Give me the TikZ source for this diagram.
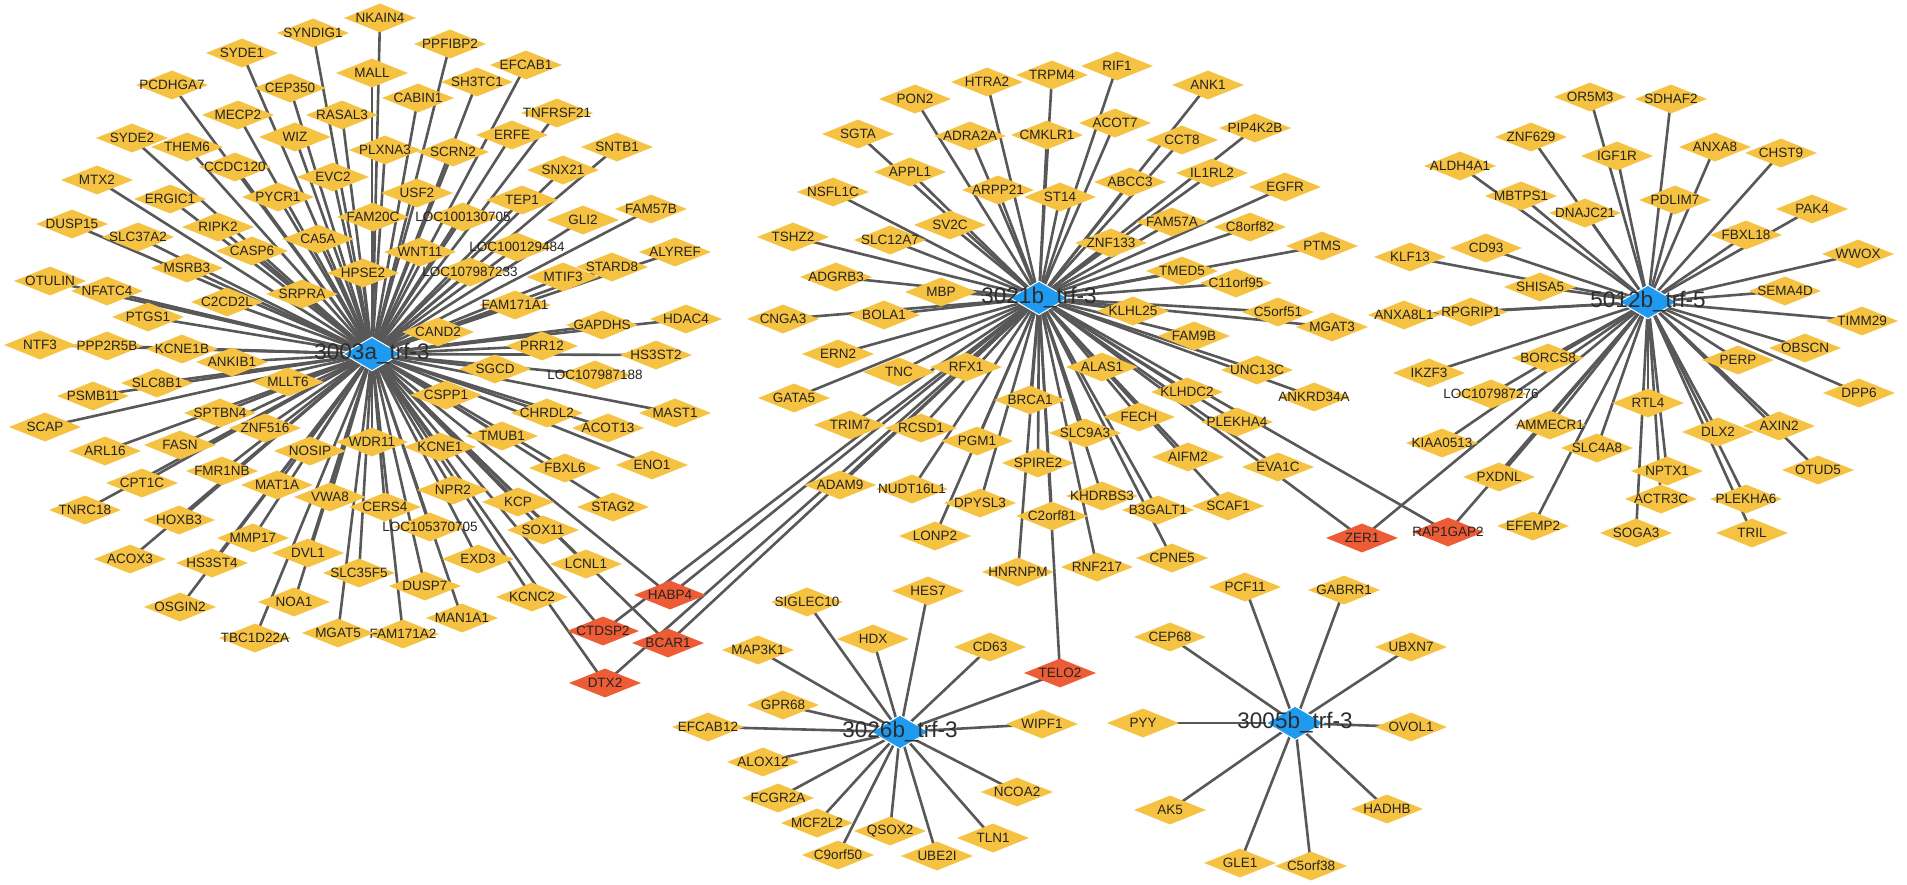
\documentclass[tikz,border=0pt]{standalone}
\usepackage{fontspec}
\setmainfont{Liberation Sans}
\usetikzlibrary{shapes.geometric}
\pgfdeclarelayer{bgfill}
\pgfdeclarelayer{edges}
\pgfsetlayers{bgfill,edges,main}
\definecolor{gold}{RGB}{246,194,66}
\definecolor{redn}{RGB}{238,92,54}
\definecolor{bluen}{RGB}{30,154,240}
\definecolor{edgec}{RGB}{88,88,88}
\definecolor{txt}{RGB}{35,35,35}
\definecolor{hubtxt}{RGB}{45,45,45}
\newcommand\gn[4]{\node[gene] (#1) at (#2,#3) {\makebox[0pt]{#4}};}
\newcommand\rn[4]{\node[gene,fill=redn] (#1) at (#2,#3) {\makebox[0pt]{#4}};}
\begin{document}
\begin{tikzpicture}[x=1pt,y=-1pt,
 gene/.style={diamond,fill=gold,draw=none,minimum width=72pt,minimum height=29pt,inner sep=0pt,font=\fontsize{13.5}{14}\selectfont,text=txt},
 hub/.style={diamond,fill=bluen,draw=white,line width=1pt,minimum width=58pt,minimum height=34pt,inner sep=0pt},
 hublabel/.style={font=\fontsize{22.5}{24}\selectfont,text=hubtxt,inner sep=0pt},
 edge/.style={draw=edgec,line width=2.6pt}]
\begin{pgfonlayer}{bgfill}
\fill[white] (0,0) rectangle (1907,885);
\end{pgfonlayer}
\useasboundingbox (0,0) rectangle (1907,885);
% hubs (positions)
\coordinate (pA) at (372,354);
\coordinate (pB) at (1039,298);
\coordinate (pC) at (1648,302);
\coordinate (pD) at (900,732);
\coordinate (pE) at (1295,723);
% ---- 3003a cluster
\gn{NKAIN4}{380}{18}{NKAIN4}
\gn{SYNDIG1}{313}{33}{SYNDIG1}
\gn{SYDE1}{242}{53}{SYDE1}
\gn{PPFIBP2}{450}{44}{PPFIBP2}
\gn{EFCAB1}{526}{65}{EFCAB1}
\gn{MALL}{372}{73}{MALL}
\gn{SH3TC1}{477}{82}{SH3TC1}
\gn{PCDHGA7}{172}{85}{PCDHGA7}
\gn{CEP350}{290}{88}{CEP350}
\gn{CABIN1}{418}{98}{CABIN1}
\gn{TNFRSF21}{557}{113}{TNFRSF21}
\gn{MECP2}{238}{115}{MECP2}
\gn{RASAL3}{342}{115}{RASAL3}
\gn{ERFE}{512}{135}{ERFE}
\gn{SYDE2}{132}{138}{SYDE2}
\gn{WIZ}{295}{137}{WIZ}
\gn{THEM6}{187}{147}{THEM6}
\gn{SNTB1}{617}{147}{SNTB1}
\gn{PLXNA3}{385}{150}{PLXNA3}
\gn{SCRN2}{453}{152}{SCRN2}
\gn{CCDC120}{235}{167}{CCDC120}
\gn{SNX21}{563}{170}{SNX21}
\gn{EVC2}{333}{177}{EVC2}
\gn{MTX2}{97}{180}{MTX2}
\gn{USF2}{417}{193}{USF2}
\gn{PYCR1}{278}{197}{PYCR1}
\gn{ERGIC1}{170}{199}{ERGIC1}
\gn{TEP1}{522}{200}{TEP1}
\gn{FAM57B}{651}{209}{FAM57B}
\gn{FAM20C}{373}{217}{FAM20C}
\gn{LOCa}{463}{217}{LOC100130705}
\gn{GLI2}{583}{220}{GLI2}
\gn{DUSP15}{72}{224}{DUSP15}
\gn{RIPK2}{218}{227}{RIPK2}
\gn{SLC37A2}{138}{237}{SLC37A2}
\gn{CA5A}{318}{239}{CA5A}
\gn{LOCb}{517}{247}{LOC100129484}
\gn{CASP6}{252}{251}{CASP6}
\gn{WNT11}{420}{252}{WNT11}
\gn{ALYREF}{675}{252}{ALYREF}
\gn{STARD8}{612}{267}{STARD8}
\gn{MSRB3}{187}{268}{MSRB3}
\gn{LOCc}{470}{272}{LOC107987233}
\gn{HPSE2}{363}{273}{HPSE2}
\gn{MTIF3}{563}{277}{MTIF3}
\gn{OTULIN}{50}{281}{OTULIN}
\gn{NFATC4}{107}{291}{NFATC4}
\gn{SRPRA}{302}{294}{SRPRA}
\gn{C2CD2L}{227}{302}{C2CD2L}
\gn{FAM171A1}{515}{305}{FAM171A1}
\gn{PTGS1}{148}{317}{PTGS1}
\gn{HDAC4}{686}{319}{HDAC4}
\gn{GAPDHS}{602}{325}{GAPDHS}
\gn{CAND2}{438}{332}{CAND2}
\gn{NTF3}{40}{345}{NTF3}
\gn{PPP2R5B}{107}{346}{PPP2R5B}
\gn{PRR12}{542}{346}{PRR12}
\gn{KCNE1B}{182}{349}{KCNE1B}
\gn{HS3ST2}{656}{355}{HS3ST2}
\gn{ANKIB1}{232}{362}{ANKIB1}
\gn{SGCD}{495}{369}{SGCD}
\gn{LOCd}{595}{375}{LOC107987188}
\gn{SLC8B1}{157}{383}{SLC8B1}
\gn{MLLT6}{288}{382}{MLLT6}
\gn{CSPP1}{446}{395}{CSPP1}
\gn{PSMB11}{93}{396}{PSMB11}
\gn{SPTBN4}{220}{413}{SPTBN4}
\gn{CHRDL2}{547}{413}{CHRDL2}
\gn{MAST1}{675}{413}{MAST1}
\gn{SCAP}{45}{427}{SCAP}
\gn{ZNF516}{265}{428}{ZNF516}
\gn{ACOT13}{608}{428}{ACOT13}
\gn{TMUB1}{502}{436}{TMUB1}
\gn{WDR11}{372}{442}{WDR11}
\gn{FASN}{180}{445}{FASN}
\gn{KCNE1}{440}{447}{KCNE1}
\gn{ARL16}{105}{451}{ARL16}
\gn{NOSIP}{310}{451}{NOSIP}
\gn{ENO1}{652}{465}{ENO1}
\gn{FBXL6}{565}{468}{FBXL6}
\gn{FMR1NB}{222}{471}{FMR1NB}
\gn{CPT1C}{142}{483}{CPT1C}
\gn{MAT1A}{277}{485}{MAT1A}
\gn{NPR2}{453}{490}{NPR2}
\gn{VWA8}{330}{497}{VWA8}
\gn{KCP}{518}{502}{KCP}
\gn{CERS4}{385}{507}{CERS4}
\gn{STAG2}{613}{507}{STAG2}
\gn{TNRC18}{85}{510}{TNRC18}
\gn{HOXB3}{179}{520}{HOXB3}
\gn{LOCe}{430}{527}{LOC105370705}
\gn{SOX11}{543}{530}{SOX11}
\gn{MMP17}{253}{538}{MMP17}
\gn{DVL1}{308}{553}{DVL1}
\gn{EXD3}{478}{559}{EXD3}
\gn{ACOX3}{130}{559}{ACOX3}
\gn{HS3ST4}{212}{563}{HS3ST4}
\gn{LCNL1}{586}{564}{LCNL1}
\gn{SLC35F5}{359}{573}{SLC35F5}
\gn{DUSP7}{425}{586}{DUSP7}
\gn{KCNC2}{532}{597}{KCNC2}
\gn{NOA1}{294}{602}{NOA1}
\gn{OSGIN2}{180}{607}{OSGIN2}
\gn{MAN1A1}{462}{618}{MAN1A1}
\gn{FAM171A2}{403}{634}{FAM171A2}
\gn{MGAT5}{338}{633}{MGAT5}
\gn{TBC1D22A}{255}{638}{TBC1D22A}
% ---- 3021b cluster
\gn{RIF1}{1117}{66}{RIF1}
\gn{TRPM4}{1052}{75}{TRPM4}
\gn{HTRA2}{987}{82}{HTRA2}
\gn{ANK1}{1208}{85}{ANK1}
\gn{PON2}{915}{99}{PON2}
\gn{ACOT7}{1115}{123}{ACOT7}
\gn{PIP4K2B}{1255}{128}{PIP4K2B}
\gn{SGTA}{858}{134}{SGTA}
\gn{CMKLR1}{1047}{135}{CMKLR1}
\gn{ADRA2A}{970}{136}{ADRA2A}
\gn{CCT8}{1182}{140}{CCT8}
\gn{APPL1}{910}{172}{APPL1}
\gn{IL1RL2}{1212}{173}{IL1RL2}
\gn{ABCC3}{1130}{182}{ABCC3}
\gn{EGFR}{1285}{187}{EGFR}
\gn{ARPP21}{998}{190}{ARPP21}
\gn{NSFL1C}{833}{192}{NSFL1C}
\gn{ST14}{1060}{197}{ST14}
\gn{FAM57A}{1172}{222}{FAM57A}
\gn{SV2C}{950}{225}{SV2C}
\gn{C8orf82}{1250}{227}{C8orf82}
\gn{TSHZ2}{793}{237}{TSHZ2}
\gn{SLC12A7}{890}{240}{SLC12A7}
\gn{ZNF133}{1111}{243}{ZNF133}
\gn{PTMS}{1322}{246}{PTMS}
\gn{TMED5}{1182}{271}{TMED5}
\gn{ADGRB3}{836}{277}{ADGRB3}
\gn{C11orf95}{1236}{283}{C11orf95}
\gn{MBP}{941}{292}{MBP}
\gn{KLHL25}{1133}{311}{KLHL25}
\gn{C5orf51}{1278}{312}{C5orf51}
\gn{BOLA1}{884}{315}{BOLA1}
\gn{CNGA3}{783}{319}{CNGA3}
\gn{MGAT3}{1332}{327}{MGAT3}
\gn{FAM9B}{1194}{336}{FAM9B}
\gn{ERN2}{838}{354}{ERN2}
\gn{UNC13C}{1257}{370}{UNC13C}
\gn{RFX1}{966}{367}{RFX1}
\gn{ALAS1}{1102}{367}{ALAS1}
\gn{TNC}{899}{372}{TNC}
\gn{KLHDC2}{1187}{392}{KLHDC2}
\gn{ANKRD34A}{1314}{397}{ANKRD34A}
\gn{GATA5}{794}{398}{GATA5}
\gn{BRCA1}{1030}{400}{BRCA1}
\gn{FECH}{1139}{417}{FECH}
\gn{PLEKHA4}{1237}{422}{PLEKHA4}
\gn{TRIM7}{850}{425}{TRIM7}
\gn{RCSD1}{921}{428}{RCSD1}
\gn{SLC9A3}{1085}{433}{SLC9A3}
\gn{PGM1}{977}{441}{PGM1}
\gn{AIFM2}{1188}{457}{AIFM2}
\gn{SPIRE2}{1038}{463}{SPIRE2}
\gn{EVA1C}{1278}{467}{EVA1C}
\gn{ADAM9}{840}{485}{ADAM9}
\gn{NUDT16L1}{912}{489}{NUDT16L1}
\gn{KHDRBS3}{1102}{496}{KHDRBS3}
\gn{DPYSL3}{980}{503}{DPYSL3}
\gn{SCAF1}{1228}{506}{SCAF1}
\gn{B3GALT1}{1158}{510}{B3GALT1}
\gn{C2orf81}{1052}{516}{C2orf81}
\gn{LONP2}{935}{536}{LONP2}
\gn{CPNE5}{1172}{558}{CPNE5}
\gn{RNF217}{1097}{567}{RNF217}
\gn{HNRNPM}{1018}{572}{HNRNPM}
% ---- 5012b cluster
\gn{OR5M3}{1590}{97}{OR5M3}
\gn{SDHAF2}{1671}{99}{SDHAF2}
\gn{ZNF629}{1531}{137}{ZNF629}
\gn{ANXA8}{1715}{147}{ANXA8}
\gn{CHST9}{1781}{153}{CHST9}
\gn{IGF1R}{1617}{156}{IGF1R}
\gn{ALDH4A1}{1460}{166}{ALDH4A1}
\gn{MBTPS1}{1521}{196}{MBTPS1}
\gn{PDLIM7}{1675}{200}{PDLIM7}
\gn{PAK4}{1812}{209}{PAK4}
\gn{DNAJC21}{1585}{213}{DNAJC21}
\gn{FBXL18}{1746}{235}{FBXL18}
\gn{CD93}{1486}{248}{CD93}
\gn{WWOX}{1858}{254}{WWOX}
\gn{KLF13}{1410}{257}{KLF13}
\gn{SHISA5}{1540}{287}{SHISA5}
\gn{SEMA4D}{1785}{291}{SEMA4D}
\gn{ANXA8L1}{1404}{315}{ANXA8L1}
\gn{RPGRIP1}{1471}{312}{RPGRIP1}
\gn{TIMM29}{1862}{321}{TIMM29}
\gn{OBSCN}{1805}{348}{OBSCN}
\gn{BORCS8}{1548}{358}{BORCS8}
\gn{PERP}{1738}{360}{PERP}
\gn{IKZF3}{1429}{373}{IKZF3}
\gn{LOCf}{1491}{394}{LOC107987276}
\gn{DPP6}{1859}{393}{DPP6}
\gn{RTL4}{1648}{403}{RTL4}
\gn{AMMECR1}{1550}{425}{AMMECR1}
\gn{AXIN2}{1779}{426}{AXIN2}
\gn{DLX2}{1718}{432}{DLX2}
\gn{KIAA0513}{1442}{443}{KIAA0513}
\gn{SLC4A8}{1597}{448}{SLC4A8}
\gn{NPTX1}{1667}{471}{NPTX1}
\gn{OTUD5}{1818}{470}{OTUD5}
\gn{PXDNL}{1499}{477}{PXDNL}
\gn{ACTR3C}{1661}{499}{ACTR3C}
\gn{PLEKHA6}{1746}{499}{PLEKHA6}
\gn{EFEMP2}{1533}{526}{EFEMP2}
\gn{SOGA3}{1636}{533}{SOGA3}
\gn{TRIL}{1752}{533}{TRIL}
% ---- 3026b cluster
\gn{HES7}{928}{591}{HES7}
\gn{SIGLEC10}{807}{602}{SIGLEC10}
\gn{HDX}{873}{639}{HDX}
\gn{CD63}{990}{647}{CD63}
\gn{MAP3K1}{758}{650}{MAP3K1}
\gn{GPR68}{783}{705}{GPR68}
\gn{WIPF1}{1042}{724}{WIPF1}
\gn{EFCAB12}{708}{727}{EFCAB12}
\gn{ALOX12}{763}{762}{ALOX12}
\gn{NCOA2}{1017}{792}{NCOA2}
\gn{FCGR2A}{778}{798}{FCGR2A}
\gn{MCF2L2}{817}{823}{MCF2L2}
\gn{QSOX2}{890}{831}{QSOX2}
\gn{TLN1}{993}{838}{TLN1}
\gn{C9orf50}{838}{855}{C9orf50}
\gn{UBE2I}{937}{856}{UBE2I}
% ---- 3005b cluster
\gn{PCF11}{1245}{587}{PCF11}
\gn{GABRR1}{1344}{590}{GABRR1}
\gn{CEP68}{1170}{637}{CEP68}
\gn{UBXN7}{1411}{647}{UBXN7}
\gn{PYY}{1143}{723}{PYY}
\gn{OVOL1}{1411}{727}{OVOL1}
\gn{AK5}{1170}{810}{AK5}
\gn{HADHB}{1387}{809}{HADHB}
\gn{GLE1}{1240}{863}{GLE1}
\gn{C5orf38}{1311}{866}{C5orf38}
% ---- shared (red)
\rn{HABP4}{670}{595}{HABP4}
\rn{CTDSP2}{603}{631}{CTDSP2}
\rn{BCAR1}{668}{643}{BCAR1}
\rn{DTX2}{605}{683}{DTX2}
\rn{TELO2}{1060}{673}{TELO2}
\rn{ZER1}{1362}{538}{ZER1}
\rn{RAP1GAP2}{1448}{532}{RAP1GAP2}
% ---- hubs
\node[hub] (hA) at (pA) {};
\node[hub] (hB) at (pB) {};
\node[hub] (hC) at (pC) {};
\node[hub] (hD) at (pD) {};
\node[hub] (hE) at (pE) {};
% ---- edges
\begin{pgfonlayer}{edges}
\foreach \n in {NKAIN4,SYNDIG1,SYDE1,PPFIBP2,EFCAB1,MALL,SH3TC1,PCDHGA7,CEP350,CABIN1,TNFRSF21,MECP2,RASAL3,ERFE,SYDE2,WIZ,THEM6,SNTB1,PLXNA3,SCRN2,CCDC120,SNX21,EVC2,MTX2,USF2,PYCR1,ERGIC1,TEP1,FAM57B,FAM20C,LOCa,GLI2,DUSP15,RIPK2,SLC37A2,CA5A,LOCb,CASP6,WNT11,ALYREF,STARD8,MSRB3,LOCc,HPSE2,MTIF3,OTULIN,NFATC4,SRPRA,C2CD2L,FAM171A1,PTGS1,HDAC4,GAPDHS,CAND2,NTF3,PPP2R5B,PRR12,KCNE1B,HS3ST2,ANKIB1,SGCD,LOCd,SLC8B1,MLLT6,CSPP1,PSMB11,SPTBN4,CHRDL2,MAST1,SCAP,ZNF516,ACOT13,TMUB1,WDR11,FASN,KCNE1,ARL16,NOSIP,ENO1,FBXL6,FMR1NB,CPT1C,MAT1A,NPR2,VWA8,KCP,CERS4,STAG2,TNRC18,HOXB3,LOCe,SOX11,MMP17,DVL1,EXD3,ACOX3,HS3ST4,LCNL1,SLC35F5,DUSP7,KCNC2,NOA1,OSGIN2,MAN1A1,FAM171A2,MGAT5,TBC1D22A,HABP4,CTDSP2,BCAR1,DTX2}
  \draw[edge] (pA) -- (\n.center);
\foreach \n in {RIF1,TRPM4,HTRA2,ANK1,PON2,ACOT7,PIP4K2B,SGTA,CMKLR1,ADRA2A,CCT8,APPL1,IL1RL2,ABCC3,EGFR,ARPP21,NSFL1C,ST14,FAM57A,SV2C,C8orf82,TSHZ2,SLC12A7,ZNF133,PTMS,TMED5,ADGRB3,C11orf95,MBP,KLHL25,C5orf51,BOLA1,CNGA3,MGAT3,FAM9B,ERN2,UNC13C,RFX1,ALAS1,TNC,KLHDC2,ANKRD34A,GATA5,BRCA1,FECH,PLEKHA4,TRIM7,RCSD1,SLC9A3,PGM1,AIFM2,SPIRE2,EVA1C,ADAM9,NUDT16L1,KHDRBS3,DPYSL3,SCAF1,B3GALT1,C2orf81,LONP2,CPNE5,RNF217,HNRNPM,HABP4,CTDSP2,BCAR1,DTX2,TELO2,ZER1,RAP1GAP2}
  \draw[edge] (pB) -- (\n.center);
\foreach \n in {OR5M3,SDHAF2,ZNF629,ANXA8,CHST9,IGF1R,ALDH4A1,MBTPS1,PDLIM7,PAK4,DNAJC21,FBXL18,CD93,WWOX,KLF13,SHISA5,SEMA4D,ANXA8L1,RPGRIP1,TIMM29,OBSCN,BORCS8,PERP,IKZF3,LOCf,DPP6,RTL4,AMMECR1,AXIN2,DLX2,KIAA0513,SLC4A8,NPTX1,OTUD5,PXDNL,ACTR3C,PLEKHA6,EFEMP2,SOGA3,TRIL,ZER1,RAP1GAP2}
  \draw[edge] (pC) -- (\n.center);
\foreach \n in {HES7,SIGLEC10,HDX,CD63,MAP3K1,GPR68,WIPF1,EFCAB12,ALOX12,NCOA2,FCGR2A,MCF2L2,QSOX2,TLN1,C9orf50,UBE2I,TELO2}
  \draw[edge] (pD) -- (\n.center);
\foreach \n in {PCF11,GABRR1,CEP68,UBXN7,PYY,OVOL1,AK5,HADHB,GLE1,C5orf38}
  \draw[edge] (pE) -- (\n.center);
\end{pgfonlayer}
% ---- hub labels (on top)
\node[hublabel] (lA) at (pA) {3003a\_trf-3};
\node[hublabel] (lB) at (pB) {3021b\_trf-3};
\node[hublabel] (lC) at (pC) {5012b\_trf-5};
\node[hublabel] (lD) at (pD) {3026b\_trf-3};
\node[hublabel] (lE) at (pE) {3005b\_trf-3};
\end{tikzpicture}
\end{document}
